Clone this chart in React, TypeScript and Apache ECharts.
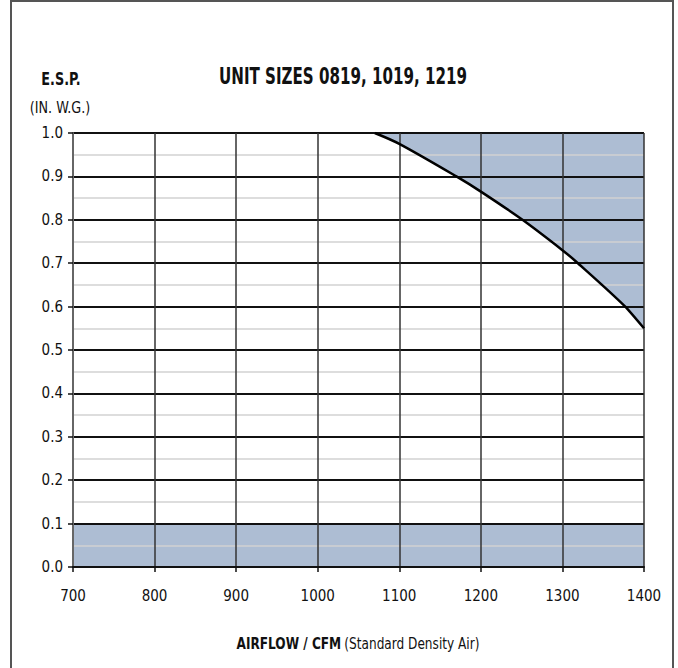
import React, { useEffect, useRef } from "react";
import * as echarts from "echarts";

const xTicks = [700, 800, 900, 1000, 1100, 1200, 1300, 1400];
const curveX = [1070, 1100, 1170, 1200, 1251, 1300, 1319, 1377, 1400];
const curveY = [1.0, 0.975, 0.9, 0.865, 0.8, 0.73, 0.7, 0.6, 0.55];
const bandX = [700, 1400];
const bandY = [0.1, 0.1];

const FONT = '"DejaVu Sans Condensed", "Liberation Sans", sans-serif';
const FILL = "#adbdd3";

export default function App() {
  const ref = useRef<HTMLDivElement>(null);
  useEffect(() => {
    const chart = echarts.init(ref.current!, undefined, { renderer: "svg" });
    chart.setOption({
      animation: false,
      textStyle: { fontFamily: FONT },
      grid: { left: 73, right: 34, top: 133, bottom: 101 },
      xAxis: {
        type: "value",
        min: xTicks[0],
        max: xTicks[xTicks.length - 1],
        interval: 100,
        axisLine: { show: true, onZero: false, lineStyle: { color: "#111", width: 2 } },
        axisTick: { show: true, length: 5, lineStyle: { color: "#111", width: 1.5 } },
        axisLabel: {
          color: "#111",
          fontSize: 15,
          margin: 21,
          fontFamily: FONT,
          formatter: (v: number) => String(v),
        },
        splitLine: { show: true, lineStyle: { color: "#333", width: 1.5 } },
      },
      yAxis: {
        type: "value",
        min: 0,
        max: 1,
        interval: 0.1,
        axisLine: { show: true, lineStyle: { color: "#666", width: 2 } },
        axisTick: { show: true, length: 5, lineStyle: { color: "#111", width: 1.5 } },
        axisLabel: {
          color: "#111",
          fontSize: 15,
          margin: 10,
          fontFamily: FONT,
          formatter: (v: number) => v.toFixed(1),
        },
        splitLine: { show: true, lineStyle: { color: "#111", width: 2 } },
        minorTick: { show: false, splitNumber: 2 },
        minorSplitLine: { show: true, lineStyle: { color: "#d2d2d2", width: 1.5 } },
      },
      graphic: [
        {
          type: "rect",
          shape: { x: 11, y: 1, width: 662, height: 720 },
          style: { fill: "none", stroke: "#555", lineWidth: 2 },
          silent: true,
        },
        {
          type: "text",
          x: 343,
          y: 76,
          scaleX: 0.73,
          style: {
            text: "UNIT SIZES 0819, 1019, 1219",
            fontFamily: FONT,
            fontWeight: "bold",
            fontSize: 23,
            fill: "#111",
            align: "center",
            verticalAlign: "middle",
          },
        },
        {
          type: "text",
          x: 61,
          y: 79,
          scaleX: 0.79,
          style: {
            text: "E.S.P.",
            fontFamily: FONT,
            fontWeight: "bold",
            fontSize: 18,
            fill: "#111",
            align: "center",
            verticalAlign: "middle",
          },
        },
        {
          type: "text",
          x: 60,
          y: 108,
          scaleX: 0.89,
          style: {
            text: "(IN. W.G.)",
            fontFamily: FONT,
            fontSize: 16,
            fill: "#111",
            align: "center",
            verticalAlign: "middle",
          },
        },
        {
          type: "text",
          x: 358,
          y: 644,
          scaleX: 0.9,
          style: {
            text: "{b|AIRFLOW / CFM} {r|(Standard Density Air)}",
            align: "center",
            verticalAlign: "middle",
            rich: {
              b: { fontFamily: FONT, fontWeight: "bold", fontSize: 15, fill: "#111" },
              r: { fontFamily: FONT, fontSize: 15, fill: "#111" },
            },
          },
        },
      ],
      series: [
        {
          type: "line",
          z: -1,
          symbol: "none",
          data: bandX.map((x, i) => [x, bandY[i]]),
          lineStyle: { width: 0 },
          areaStyle: { color: FILL, opacity: 1, origin: "start" },
          silent: true,
        },
        {
          type: "line",
          z: -1,
          symbol: "none",
          smooth: 0.3,
          data: curveX.map((x, i) => [x, curveY[i]]),
          lineStyle: { width: 0 },
          areaStyle: { color: FILL, opacity: 1, origin: "end" },
          silent: true,
        },
        {
          type: "line",
          z: 5,
          symbol: "none",
          smooth: 0.3,
          data: curveX.map((x, i) => [x, curveY[i]]),
          lineStyle: { color: "#000", width: 2.5 },
          silent: true,
        },
      ],
    });
    return () => chart.dispose();
  }, []);
  return (
    <div
      ref={ref}
      style={{ position: "fixed", left: 0, top: 0, width: 678, height: 668, background: "#fff" }}
    />
  );
}
